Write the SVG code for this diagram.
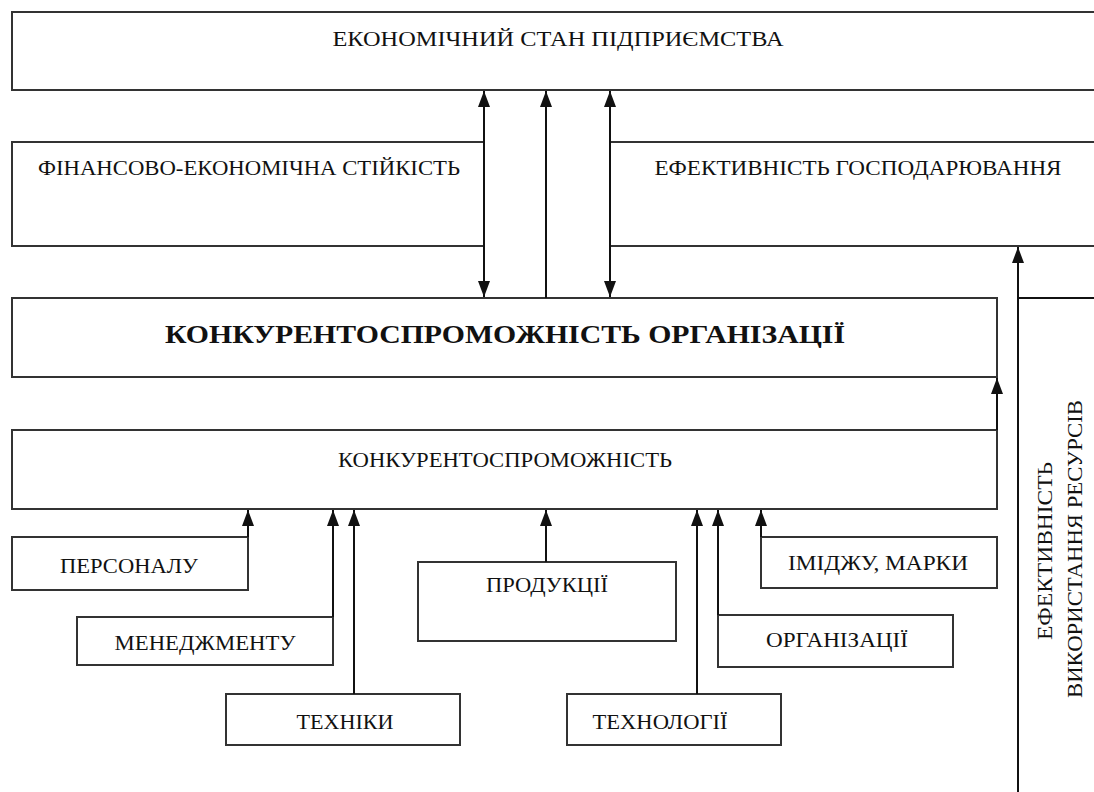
<svg xmlns="http://www.w3.org/2000/svg" width="1094" height="792" viewBox="0 0 1094 792">
<defs>
<marker id="ah" markerUnits="userSpaceOnUse" markerWidth="17" markerHeight="12" refX="16" refY="6" orient="auto-start-reverse">
<path d="M0,0 L16,6 L0,12 Z" fill="#111"/>
</marker>
<style>
.box{fill:#fff;stroke:#333;stroke-width:2}
.t{font-family:"Liberation Serif","Times New Roman",serif;font-size:22px;fill:#111;text-anchor:middle}
.b{font-weight:bold;font-size:26px}
.c{fill:none;stroke:#111;stroke-width:2}
</style>
</defs>
<rect width="1094" height="792" fill="#fff"/>
<g id="n-econ"><rect class="box" x="12" y="12" width="1100" height="78"/>
<text class="t" x="558" y="46" textLength="451" lengthAdjust="spacingAndGlyphs">ЕКОНОМІЧНИЙ СТАН ПІДПРИЄМСТВА</text></g>
<g id="n-fin"><rect class="box" x="12" y="142" width="472" height="104"/>
<text class="t" x="249" y="175" textLength="422" lengthAdjust="spacingAndGlyphs">ФІНАНСОВО-ЕКОНОМІЧНА СТІЙКІСТЬ</text></g>
<g id="n-eff"><rect class="box" x="610" y="142" width="500" height="104"/>
<text class="t" x="858" y="175" textLength="407" lengthAdjust="spacingAndGlyphs">ЕФЕКТИВНІСТЬ ГОСПОДАРЮВАННЯ</text></g>
<g id="n-org"><rect class="box" x="12" y="298" width="985" height="79"/>
<text class="t b" x="505" y="343" textLength="680" lengthAdjust="spacingAndGlyphs">КОНКУРЕНТОСПРОМОЖНІСТЬ ОРГАНІЗАЦІЇ</text></g>
<g id="n-konk"><rect class="box" x="12" y="430" width="985" height="79"/>
<text class="t" x="505" y="467" textLength="334" lengthAdjust="spacingAndGlyphs">КОНКУРЕНТОСПРОМОЖНІСТЬ</text></g>
<g id="n-pers"><rect class="box" x="12" y="537" width="236" height="53"/>
<text class="t" x="129" y="573" textLength="138" lengthAdjust="spacingAndGlyphs">ПЕРСОНАЛУ</text></g>
<g id="n-men"><rect class="box" x="77" y="617" width="256" height="48"/>
<text class="t" x="205" y="650" textLength="181" lengthAdjust="spacingAndGlyphs">МЕНЕДЖМЕНТУ</text></g>
<g id="n-tech"><rect class="box" x="226" y="694" width="234" height="51"/>
<text class="t" x="345" y="729" textLength="97" lengthAdjust="spacingAndGlyphs">ТЕХНІКИ</text></g>
<g id="n-prod"><rect class="box" x="418" y="562" width="258" height="79"/>
<text class="t" x="547" y="592" textLength="122" lengthAdjust="spacingAndGlyphs">ПРОДУКЦІЇ</text></g>
<g id="n-techn"><rect class="box" x="567" y="694" width="214" height="51"/>
<text class="t" x="660" y="729" textLength="135" lengthAdjust="spacingAndGlyphs">ТЕХНОЛОГІЇ</text></g>
<g id="n-orgz"><rect class="box" x="718" y="615" width="235" height="52"/>
<text class="t" x="837" y="647" textLength="142" lengthAdjust="spacingAndGlyphs">ОРГАНІЗАЦІЇ</text></g>
<g id="n-img"><rect class="box" x="761" y="537" width="236" height="51"/>
<text class="t" x="878" y="570" textLength="180" lengthAdjust="spacingAndGlyphs">ІМІДЖУ, МАРКИ</text></g>
<g id="n-res">
<text class="t" transform="translate(1052,551) rotate(-90)" textLength="178" lengthAdjust="spacingAndGlyphs">ЕФЕКТИВНІСТЬ</text>
<text class="t" transform="translate(1082,549) rotate(-90)" textLength="298" lengthAdjust="spacingAndGlyphs">ВИКОРИСТАННЯ РЕСУРСІВ</text>
</g>
<g id="connectors">
<line class="c" x1="484" y1="297" x2="484" y2="91" marker-start="url(#ah)" marker-end="url(#ah)"/>
<line class="c" x1="546" y1="298" x2="546" y2="91" marker-end="url(#ah)"/>
<line class="c" x1="610" y1="297" x2="610" y2="91" marker-start="url(#ah)" marker-end="url(#ah)"/>
<line class="c" x1="1018" y1="792" x2="1018" y2="247" marker-end="url(#ah)"/>
<line class="c" x1="1018" y1="298" x2="1094" y2="298"/>
<line class="c" x1="997" y1="430" x2="997" y2="378" marker-end="url(#ah)"/>
<line class="c" x1="248" y1="537" x2="248" y2="510" marker-end="url(#ah)"/>
<line class="c" x1="333" y1="617" x2="333" y2="510" marker-end="url(#ah)"/>
<line class="c" x1="354" y1="694" x2="354" y2="510" marker-end="url(#ah)"/>
<line class="c" x1="546" y1="562" x2="546" y2="510" marker-end="url(#ah)"/>
<line class="c" x1="697" y1="694" x2="697" y2="510" marker-end="url(#ah)"/>
<line class="c" x1="718" y1="615" x2="718" y2="510" marker-end="url(#ah)"/>
<line class="c" x1="761" y1="537" x2="761" y2="510" marker-end="url(#ah)"/>
</g>
</svg>
